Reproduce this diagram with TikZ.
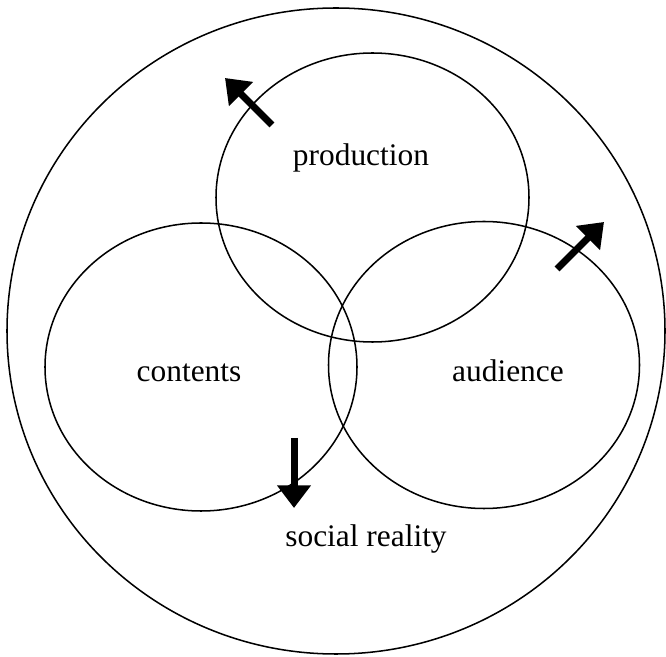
\documentclass[tikz,border=0pt]{standalone}
\usepackage{fontspec}
\setmainfont{Liberation Serif}
\usetikzlibrary{arrows.meta}
\begin{document}
\begin{tikzpicture}[x=0.03cm,y=-0.03cm,line join=round,
	font=\fontsize{26.8}{32}\selectfont,
	ring/.style={line width=1.3pt},
	lab/.style={inner sep=0pt,anchor=base},
	flow/.style={-{Triangle[length=0.68cm,width=0.98cm]},line width=0.21cm}]
	\useasboundingbox (0,0) rectangle (666,657);
	% outer circle and the three fields
	\draw[ring] (336,331) ellipse [x radius=329,y radius=323];
	\draw[ring] (372.5,197.5) ellipse [x radius=156.5,y radius=144.5];
	\draw[ring] (201,367) ellipse [x radius=156,y radius=144];
	\draw[ring] (484,365) ellipse [x radius=155.5,y radius=143.5];
	\node[lab] (prod) at (361,165.7) {production};
	\node[lab] (cont) at (189,381.7) {contents};
	\node[lab] (aud) at (508,381.7) {audience};
	\node[lab] (soc) at (366,546.7) {social reality};
	% arrows
	\coordinate (p1) at (272,125); \coordinate (p2) at (225,78);
	\coordinate (a1) at (557,269); \coordinate (a2) at (604,222);
	\coordinate (c1) at (294,438); \coordinate (c2) at (294,508);
	\draw[flow] (p1)--(p2);
	\draw[flow] (a1)--(a2);
	\draw[flow] (c1)--(c2);
\end{tikzpicture}
\end{document}
